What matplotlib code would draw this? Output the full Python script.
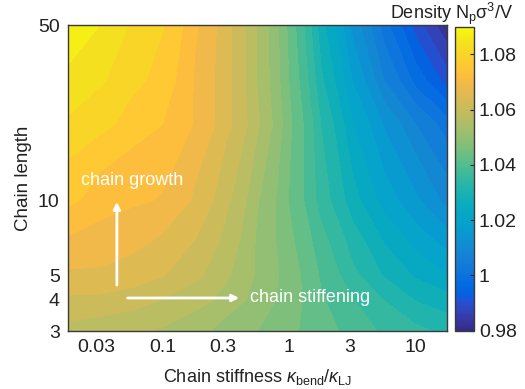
import numpy as np
import matplotlib
matplotlib.use("Agg")
import matplotlib.pyplot as plt
from matplotlib.colors import LinearSegmentedColormap, Normalize
import matplotlib.cm as cm

plt.rcParams['font.family'] = ['Liberation Sans', 'DejaVu Sans']
plt.rcParams['mathtext.fontset'] = 'custom'
plt.rcParams['mathtext.rm'] = 'Liberation Sans'
plt.rcParams['mathtext.it'] = 'Liberation Sans:italic'

# ---- data ----
kappa = [0.0178, 0.0316, 0.0562, 0.1, 0.178, 0.316, 0.562, 1.0, 1.78, 3.16, 5.62, 10.0, 17.8]
chain_length = [3, 4, 5, 7, 10, 20, 30, 50]
dens_N3  = [1.058, 1.057, 1.056, 1.055, 1.053, 1.050, 1.048, 1.045, 1.042, 1.039, 1.036, 1.034, 1.032]
dens_N4  = [1.062, 1.062, 1.061, 1.059, 1.057, 1.054, 1.050, 1.046, 1.041, 1.037, 1.033, 1.029, 1.027]
dens_N5  = [1.066, 1.066, 1.065, 1.063, 1.060, 1.056, 1.051, 1.046, 1.040, 1.034, 1.029, 1.025, 1.022]
dens_N7  = [1.070, 1.069, 1.068, 1.066, 1.063, 1.058, 1.051, 1.045, 1.038, 1.031, 1.025, 1.020, 1.016]
dens_N10 = [1.075, 1.072, 1.071, 1.070, 1.066, 1.060, 1.052, 1.044, 1.035, 1.027, 1.020, 1.015, 1.009]
dens_N20 = [1.081, 1.079, 1.076, 1.074, 1.070, 1.064, 1.056, 1.045, 1.033, 1.022, 1.014, 1.007, 1.001]
dens_N30 = [1.084, 1.082, 1.079, 1.076, 1.070, 1.064, 1.055, 1.044, 1.030, 1.018, 1.007, 0.998, 0.990]
dens_N50 = [1.089, 1.085, 1.081, 1.078, 1.071, 1.064, 1.055, 1.043, 1.027, 1.013, 1.001, 0.990, 0.981]
x_ticks = [0.03, 0.1, 0.3, 1, 3, 10]
x_ticklabels = ['0.03', '0.1', '0.3', '1', '3', '10']
y_ticks = [3, 4, 5, 10, 50]
y_ticklabels = ['3', '4', '5', '10', '50']
cb_ticks = [0.98, 1.0, 1.02, 1.04, 1.06, 1.08]
cb_ticklabels = ['0.98', '1', '1.02', '1.04', '1.06', '1.08']

parula_data = [
 [0.2081,0.1663,0.5292],[0.2116,0.1898,0.5777],[0.2123,0.2138,0.6270],[0.2081,0.2386,0.6771],
 [0.1959,0.2645,0.7279],[0.1707,0.2919,0.7792],[0.1253,0.3242,0.8303],[0.0591,0.3598,0.8683],
 [0.0117,0.3875,0.8820],[0.0060,0.4086,0.8828],[0.0165,0.4266,0.8786],[0.0329,0.4430,0.8720],
 [0.0498,0.4586,0.8641],[0.0629,0.4737,0.8554],[0.0723,0.4887,0.8467],[0.0779,0.5040,0.8384],
 [0.0793,0.5200,0.8312],[0.0749,0.5375,0.8263],[0.0641,0.5570,0.8240],[0.0488,0.5772,0.8228],
 [0.0343,0.5966,0.8199],[0.0265,0.6137,0.8135],[0.0239,0.6287,0.8038],[0.0231,0.6418,0.7913],
 [0.0228,0.6535,0.7768],[0.0267,0.6642,0.7607],[0.0384,0.6743,0.7436],[0.0590,0.6838,0.7254],
 [0.0843,0.6928,0.7062],[0.1133,0.7015,0.6859],[0.1453,0.7098,0.6646],[0.1801,0.7177,0.6424],
 [0.2178,0.7250,0.6193],[0.2586,0.7317,0.5954],[0.3022,0.7376,0.5712],[0.3482,0.7424,0.5473],
 [0.3953,0.7459,0.5244],[0.4420,0.7481,0.5033],[0.4871,0.7491,0.4840],[0.5300,0.7491,0.4661],
 [0.5709,0.7485,0.4494],[0.6099,0.7473,0.4337],[0.6473,0.7456,0.4188],[0.6834,0.7435,0.4044],
 [0.7184,0.7411,0.3905],[0.7525,0.7384,0.3768],[0.7858,0.7356,0.3633],[0.8185,0.7327,0.3498],
 [0.8507,0.7299,0.3360],[0.8824,0.7274,0.3217],[0.9139,0.7258,0.3063],[0.9450,0.7261,0.2886],
 [0.9739,0.7314,0.2666],[0.9938,0.7455,0.2403],[0.9990,0.7653,0.2164],[0.9955,0.7861,0.1967],
 [0.9880,0.8066,0.1794],[0.9789,0.8271,0.1633],[0.9697,0.8481,0.1475],[0.9626,0.8705,0.1309],
 [0.9589,0.8949,0.1132],[0.9598,0.9218,0.0948],[0.9661,0.9514,0.0755],[0.9763,0.9831,0.0538]]
parula = LinearSegmentedColormap.from_list('parula', parula_data)

Z = np.array([dens_N3, dens_N4, dens_N5, dens_N7, dens_N10, dens_N20, dens_N30, dens_N50])
X, Y = np.meshgrid(kappa, chain_length)

fig = plt.figure(figsize=(5.25, 3.89), dpi=100)
ax = fig.add_axes([0.1295, 0.149, 0.722, 0.7867])
norm = Normalize(vmin=0.98, vmax=1.09)
levels = np.linspace(Z.min(), Z.max(), 30)
cs = ax.contourf(X, Y, Z, levels=levels, cmap=parula, norm=norm)
cs.set_edgecolor('face')
cs.set_linewidth(0.6)
ax.set_xscale('log')
ax.set_yscale('log')
ax.set_xlim(kappa[0], kappa[-1])
ax.set_ylim(chain_length[0], chain_length[-1])
ax.set_xticks(x_ticks)
ax.set_xticklabels(x_ticklabels)
ax.set_yticks(y_ticks)
ax.set_yticklabels(y_ticklabels)
ax.minorticks_off()
ax.tick_params(direction='in', length=0, labelsize=14, colors='#222222', pad=6)
for s in ax.spines.values():
    s.set_color('#3a3a3a')
    s.set_linewidth(1.0)
    s.set_zorder(5)
ax.set_xlabel(r'Chain stiffness $\kappa_{\rm bend}/\kappa_{\rm LJ}$', fontsize=13, color='#222222', labelpad=8)
ax.set_ylabel('Chain length', fontsize=13.5, color='#222222', labelpad=4)

# annotations
ax.annotate('', xy=(0.129, 0.431), xytext=(0.129, 0.141), xycoords='axes fraction',
            arrowprops=dict(arrowstyle='-|>', color='white', lw=2, mutation_scale=10))
ax.annotate('', xy=(0.459, 0.108), xytext=(0.150, 0.108), xycoords='axes fraction',
            arrowprops=dict(arrowstyle='-|>', color='white', lw=2, mutation_scale=10))
ax.text(0.034, 0.493, 'chain growth', transform=ax.transAxes, color='white', fontsize=13, va='center', ha='left')
ax.text(0.48, 0.108, 'chain stiffening', transform=ax.transAxes, color='white', fontsize=13, va='center', ha='left')

cax = fig.add_axes([0.8667, 0.1499, 0.0362, 0.7815])
sm = cm.ScalarMappable(norm=norm, cmap=parula)
cb = fig.colorbar(sm, cax=cax, ticks=cb_ticks)
cb.set_ticklabels(cb_ticklabels)
cb.ax.tick_params(direction='in', length=3, labelsize=14, colors='#222222', width=0.8)
cb.outline.set_edgecolor('#3a3a3a')
cb.outline.set_linewidth(1.0)
fig.text(0.977, 0.951, r'Density N$_{\rm p}$σ$^3$/V', ha='right', va='baseline', fontsize=13, color='#222222')

fig.savefig('out.png', dpi=100)
